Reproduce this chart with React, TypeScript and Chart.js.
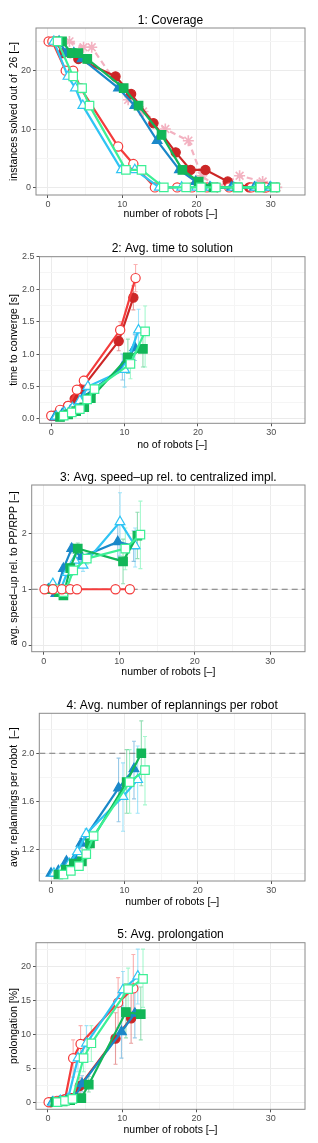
import React, { useEffect, useRef } from "react";
import { Chart, registerables } from "chart.js";
Chart.register(...registerables);

const FONT = "'Liberation Sans', Arial, Helvetica, sans-serif";

// ---------- Panel 1: Coverage ----------
const c1_rf_x = [1.1, 2.0, 3.0, 4.1, 9.1, 11.2, 14.2, 17.2, 19.2, 21.2, 24.2, 27.1, 29.2];
const c1_rf_y = [25, 23, 23, 22, 19, 16, 11, 6, 3, 3, 1, 0, 0];
const c1_ro_x = [0.1, 0.6, 2.4, 3.4, 4.4, 9.45, 11.5, 14.4, 17.4, 19.4, 21.4, 24.4, 27.4, 29.4];
const c1_ro_y = [25, 25, 20, 20, 17, 7, 4, 0, 0, 0, 0, 0, 0, 0];
const c1_bf_x = [1.5, 2.5, 3.5, 4.6, 9.5, 11.7, 14.7, 17.7, 19.9, 21.8, 24.7, 27.8, 29.9];
const c1_bf_y = [25, 23, 23, 22, 17, 14, 8, 3, 1, 0, 0, 0, 0];
const c1_co_x = [0.8, 2.7, 3.7, 4.7, 9.9, 11.7, 15.0, 18.0, 20.0, 21.9, 25.0, 28.0, 30.0];
const c1_co_y = [25, 19, 17, 14, 3, 3, 0, 0, 0, 0, 0, 0, 0];
const c1_gf_x = [1.9, 3.2, 4.1, 5.3, 10.2, 12.2, 15.3, 18.1, 20.3, 22.3, 25.5, 28.5, 30.5];
const c1_gf_y = [25, 23, 23, 22, 17, 14, 9, 3, 1, 0, 0, 0, 0];
const c1_go_x = [1.3, 3.4, 4.6, 5.6, 10.5, 12.6, 15.6, 18.6, 20.6, 22.6, 25.6, 28.6, 30.6];
const c1_go_y = [25, 19, 17, 14, 3, 3, 0, 0, 0, 0, 0, 0, 0];
const c1_pk_x = [2.9, 4.8, 5.9, 10.8, 12.8, 15.8, 18.9, 20.7, 22.8, 25.8, 28.9, 30.8];
const c1_pk_y = [25, 24, 24, 15, 13, 10, 8, 2, 0, 2, 1, 0];

// ---------- Panel 2: Avg. time to solution ----------
const t2_rf_x = [0.4, 1.4, 2.3, 3.2, 4.1, 9.2, 11.2];
const t2_rf_y = [0.05, 0.13, 0.2, 0.31, 0.46, 1.2, 1.87];
const t2_rf_lo = [0.04, 0.11, 0.18, 0.27, 0.41, 1.05, 1.68];
const t2_rf_hi = [0.06, 0.15, 0.22, 0.35, 0.51, 1.35, 2.05];
const t2_ro_x = [0.0, 1.2, 2.3, 3.5, 4.45, 9.4, 11.5];
const t2_ro_y = [0.05, 0.14, 0.2, 0.45, 0.59, 1.37, 2.17];
const t2_ro_lo = [0.04, 0.12, 0.18, 0.4, 0.53, 1.2, 1.96];
const t2_ro_hi = [0.06, 0.16, 0.22, 0.5, 0.66, 1.5, 2.38];
const t2_bf_x = [0.5, 1.5, 2.6, 3.6, 4.4, 9.7, 11.4];
const t2_bf_y = [0.03, 0.08, 0.13, 0.19, 0.34, 0.8, 1.1];
const t2_bf_lo = [0.02, 0.07, 0.11, 0.16, 0.29, 0.6, 0.9];
const t2_bf_hi = [0.04, 0.09, 0.15, 0.22, 0.39, 1.0, 1.3];
const t2_co_x = [0.7, 1.8, 2.9, 3.9, 5.0, 10.0, 11.9];
const t2_co_y = [0.04, 0.1, 0.17, 0.28, 0.5, 0.76, 1.37];
const t2_co_lo = [0.03, 0.08, 0.15, 0.24, 0.44, 0.49, 1.05];
const t2_co_hi = [0.05, 0.12, 0.19, 0.32, 0.56, 1.0, 1.69];
const t2_gf_x = [1.2, 2.3, 3.4, 4.5, 5.4, 10.45, 12.5];
const t2_gf_y = [0.03, 0.07, 0.12, 0.18, 0.32, 0.95, 1.08];
const t2_gf_lo = [0.02, 0.06, 0.1, 0.15, 0.27, 0.7, 0.8];
const t2_gf_hi = [0.04, 0.08, 0.14, 0.21, 0.37, 1.23, 1.36];
const t2_go_x = [1.7, 2.8, 3.9, 4.9, 5.9, 10.8, 12.8];
const t2_go_y = [0.05, 0.1, 0.15, 0.3, 0.46, 0.85, 1.35];
const t2_go_lo = [0.04, 0.08, 0.13, 0.26, 0.4, 0.62, 0.8];
const t2_go_hi = [0.06, 0.12, 0.17, 0.34, 0.52, 1.05, 1.74];

// ---------- Panel 3: Avg. speed-up ----------
const s3_ro_x = [0.1, 1.2, 2.4, 3.5, 4.4, 9.5, 11.4];
const s3_ro_y = [1, 1, 1, 1, 1, 1, 1];
const s3_bf_x = [0.6, 1.6, 2.6, 3.7, 5.0, 9.8, 11.9];
const s3_bf_y = [1.0, 0.92, 1.37, 1.73, 1.58, 1.85, 1.78];
const s3_bf_lo = [0.98, 0.88, 1.3, 1.65, 1.5, 1.55, 1.5];
const s3_bf_hi = [1.02, 0.96, 1.44, 1.81, 1.66, 2.15, 2.05];
const s3_co_x = [1.2, 2.1, 3.1, 4.1, 5.2, 10.1, 12.1];
const s3_co_y = [1.1, 0.95, 1.3, 1.52, 1.43, 2.21, 1.78];
const s3_co_lo = [1.06, 0.9, 1.22, 1.44, 1.32, 1.6, 1.4];
const s3_co_hi = [1.14, 1.0, 1.38, 1.6, 1.55, 2.73, 2.1];
const s3_gf_x = [1.0, 2.0, 2.6, 3.5, 4.5, 10.5, 12.4];
const s3_gf_y = [1.0, 0.95, 0.89, 1.38, 1.73, 1.5, 1.96];
const s3_gf_lo = [0.98, 0.91, 0.85, 1.3, 1.62, 1.1, 1.55];
const s3_gf_hi = [1.02, 0.99, 0.93, 1.46, 1.83, 1.9, 2.38];
const s3_go_x = [1.6, 2.6, 3.0, 3.9, 5.7, 10.8, 12.8];
const s3_go_y = [1.0, 0.95, 1.0, 1.34, 1.55, 1.73, 1.98];
const s3_go_lo = [0.98, 0.91, 0.95, 1.26, 1.45, 1.35, 1.37];
const s3_go_hi = [1.02, 0.99, 1.05, 1.42, 1.65, 2.1, 2.58];
const s3_ref = 1;

// ---------- Panel 4: Avg. number of replannings ----------
const r4_bf_x = [0.0, 1.0, 2.1, 3.2, 4.1, 9.2, 11.3];
const r4_bf_y = [1.0, 1.02, 1.1, 1.12, 1.25, 1.71, 1.87];
const r4_bf_lo = [0.99, 1.0, 1.07, 1.08, 1.21, 1.43, 1.62];
const r4_bf_hi = [1.01, 1.04, 1.13, 1.16, 1.29, 1.96, 2.1];
const r4_co_x = [0.4, 1.4, 2.5, 3.6, 4.8, 9.8, 11.8];
const r4_co_y = [1.0, 1.03, 1.08, 1.18, 1.33, 1.64, 1.78];
const r4_co_lo = [0.99, 1.01, 1.05, 1.14, 1.29, 1.35, 1.5];
const r4_co_hi = [1.01, 1.05, 1.11, 1.22, 1.37, 1.92, 2.06];
const r4_gf_x = [1.0, 2.0, 3.1, 4.2, 5.3, 10.3, 12.3];
const r4_gf_y = [0.99, 1.03, 1.08, 1.1, 1.25, 1.76, 2.0];
const r4_gf_lo = [0.98, 1.01, 1.05, 1.07, 1.21, 1.5, 1.73];
const r4_gf_hi = [1.0, 1.05, 1.11, 1.13, 1.29, 2.03, 2.27];
const r4_go_x = [1.7, 2.7, 3.8, 4.8, 5.8, 10.7, 12.8];
const r4_go_y = [0.99, 1.02, 1.06, 1.16, 1.31, 1.76, 1.86];
const r4_go_lo = [0.98, 1.0, 1.03, 1.12, 1.27, 1.5, 1.57];
const r4_go_hi = [1.0, 1.04, 1.09, 1.2, 1.35, 2.03, 2.14];
const r4_ref = 2;

// ---------- Panel 5: Avg. prolongation ----------
const p5_ro_x = [0.1, 1.2, 2.3, 3.4, 4.4, 9.45, 11.5];
const p5_ro_y = [0, 0.2, 0.4, 6.5, 8.6, 14.7, 16.8];
const p5_ro_lo = [-0.1, 0.0, 0.2, 3.7, 6.0, 11.0, 12.0];
const p5_ro_hi = [0.1, 0.4, 0.6, 9.2, 11.3, 18.4, 21.8];
const p5_rf_x = [0.4, 1.4, 2.2, 3.2, 4.3, 9.1, 11.2];
const p5_rf_y = [0, 0.2, 0.4, 0.6, 2.4, 9.4, 12.4];
const p5_rf_lo = [-0.1, 0.0, 0.2, 0.3, 1.2, 5.6, 8.7];
const p5_rf_hi = [0.1, 0.4, 0.6, 0.9, 3.6, 13.2, 16.2];
const p5_bf_x = [0.6, 1.6, 2.5, 3.6, 4.6, 9.9, 11.7];
const p5_bf_y = [0, 0.1, 0.3, 0.7, 2.7, 10.4, 13.1];
const p5_bf_lo = [-0.1, 0.0, 0.1, 0.4, 1.5, 6.5, 9.5];
const p5_bf_hi = [0.1, 0.2, 0.5, 1.0, 3.9, 14.3, 16.8];
const p5_co_x = [0.7, 1.7, 2.7, 4.05, 5.2, 10.1, 12.1];
const p5_co_y = [0, 0.2, 0.5, 6.5, 8.7, 16.6, 18.6];
const p5_co_lo = [-0.1, 0.0, 0.3, 4.5, 6.0, 14.0, 14.5];
const p5_co_hi = [0.1, 0.4, 0.7, 8.5, 11.3, 19.3, 22.6];
const p5_gf_x = [1.0, 2.0, 3.0, 4.5, 5.5, 10.5, 12.5];
const p5_gf_y = [0, 0.1, 0.3, 0.6, 2.6, 13.3, 13.0];
const p5_gf_lo = [-0.1, 0.0, 0.1, 0.3, 1.5, 9.5, 9.2];
const p5_gf_hi = [0.1, 0.2, 0.5, 0.9, 3.8, 17.5, 17.0];
const p5_go_x = [1.3, 2.3, 3.3, 4.8, 5.85, 10.8, 12.8];
const p5_go_y = [0, 0.2, 0.5, 6.5, 8.7, 16.7, 18.2];
const p5_go_lo = [-0.1, 0.0, 0.3, 4.5, 6.0, 13.6, 14.0];
const p5_go_hi = [0.1, 0.4, 0.7, 8.5, 11.3, 19.8, 22.6];

// ---------- styles ----------
const STYLES: Record<string, any> = {
  rf: { color: "#CC2626", err: "rgba(204,38,38,0.45)", shape: "circle", open: false, r: 4.6 },
  ro: { color: "#F43C3C", err: "rgba(244,60,60,0.4)", shape: "circle", open: true, r: 4.6 },
  bf: { color: "#1A88C9", err: "rgba(26,136,201,0.45)", shape: "triangle", open: false, r: 5.6 },
  co: { color: "#2FC4F4", err: "rgba(47,196,244,0.45)", shape: "triangle", open: true, r: 5.6 },
  gf: { color: "#12B658", err: "rgba(18,182,88,0.45)", shape: "rect", open: false, r: 6 },
  go: { color: "#3CF095", err: "rgba(60,240,149,0.45)", shape: "rect", open: true, r: 6 },
  pk: { color: "#F3B2C1", err: "rgba(243,178,193,0.45)", shape: "star", open: true, r: 5.5, dash: [6, 4] },
};

type Ser = { key: string; x: number[]; y: number[]; lo?: number[]; hi?: number[] };

// the series list of a panel is given top-most first
function makeDataset(s: Ser, idx: number) {
  const st = STYLES[s.key];
  return {
    data: s.x.map((x, i) => ({ x, y: s.y[i] })),
    showLine: true,
    borderColor: st.color,
    borderWidth: 2.2,
    borderDash: st.dash || [],
    tension: 0,
    fill: false,
    pointStyle: st.shape,
    pointRadius: st.r,
    pointHoverRadius: st.r,
    pointBackgroundColor: st.open ? "#FFFFFF" : st.color,
    pointBorderColor: st.color,
    pointBorderWidth: st.shape === "star" ? 1.6 : 1.2,
    errLow: s.lo,
    errHigh: s.hi,
    errColor: st.err,
    order: idx,
  };
}

const errorBarPlugin = {
  id: "errbars",
  beforeDatasetsDraw(chart: any) {
    const { ctx, scales, chartArea } = chart;
    const xs = scales.x, ys = scales.y;
    ctx.save();
    ctx.beginPath();
    ctx.rect(chartArea.left, chartArea.top, chartArea.right - chartArea.left, chartArea.bottom - chartArea.top);
    ctx.clip();
    chart.data.datasets.forEach((ds: any) => {
      if (!ds.errLow) return;
      ctx.strokeStyle = ds.errColor;
      ctx.lineWidth = 1.1;
      ds.data.forEach((pt: any, i: number) => {
        const px = xs.getPixelForValue(pt.x);
        const pl = ys.getPixelForValue(ds.errLow[i]);
        const ph = ys.getPixelForValue(ds.errHigh[i]);
        ctx.beginPath();
        ctx.moveTo(px, pl);
        ctx.lineTo(px, ph);
        ctx.moveTo(px - 2, pl);
        ctx.lineTo(px + 2, pl);
        ctx.moveTo(px - 2, ph);
        ctx.lineTo(px + 2, ph);
        ctx.stroke();
      });
    });
    ctx.restore();
  },
};

const hlinePlugin = {
  id: "hline",
  beforeDatasetsDraw(chart: any, _args: any, opts: any) {
    if (opts == null || opts.value == null) return;
    const { ctx, chartArea, scales } = chart;
    const py = scales.y.getPixelForValue(opts.value);
    ctx.save();
    ctx.strokeStyle = "#7A7A7A";
    ctx.lineWidth = 1;
    ctx.setLineDash([6, 4]);
    ctx.beginPath();
    ctx.moveTo(chartArea.left, py);
    ctx.lineTo(chartArea.right, py);
    ctx.stroke();
    ctx.restore();
  },
};

const framePlugin = {
  id: "frame",
  afterDraw(chart: any) {
    const { ctx, chartArea } = chart;
    ctx.save();
    ctx.strokeStyle = "#8A8A8A";
    ctx.lineWidth = 1;
    ctx.strokeRect(chartArea.left, chartArea.top, chartArea.right - chartArea.left, chartArea.bottom - chartArea.top);
    ctx.restore();
  },
};

function isMajor(v: number, step: number) {
  const r = v / step;
  return Math.abs(r - Math.round(r)) < 1e-6;
}

type PanelCfg = {
  title: string;
  xTitle: string;
  yTitle: string;
  yMin: number;
  yMax: number;
  yStep: number;
  yMajor: number;
  yDigits: number;
  left: number;
  height: number;
  tPadTop: number;
  tPadBottom: number;
  xAxisH: number;
  xTitlePadB: number;
  hline?: number;
  series: Ser[];
};

function buildConfig(p: PanelCfg): any {
  const gridColor = (step: number) => (ctx: any) =>
    ctx.tick && isMajor(ctx.tick.value, step) ? "#EBEBEB" : "#F5F5F5";
  const tickColor = (step: number) => (ctx: any) =>
    ctx.tick && isMajor(ctx.tick.value, step) ? "#555555" : "rgba(0,0,0,0)";
  return {
    type: "scatter",
    data: { datasets: p.series.map(makeDataset) },
    options: {
      animation: false,
      responsive: false,
      devicePixelRatio: 1,
      layout: { padding: { left: 0, right: 13, top: 0, bottom: 0 } },
      plugins: {
        legend: { display: false },
        tooltip: { enabled: false },
        title: {
          display: true,
          text: p.title,
          fullSize: false,
          color: "#000000",
          font: { family: FONT, size: 12, lineHeight: 1.2, weight: "normal" },
          padding: { top: p.tPadTop, bottom: p.tPadBottom },
        },
        hline: p.hline != null ? { value: p.hline } : { value: null },
      },
      scales: {
        x: {
          type: "linear",
          min: -1.6,
          max: 34.6,
          afterFit: (s: any) => {
            s.height = p.xAxisH;
          },
          border: { display: false },
          grid: {
            color: gridColor(10),
            lineWidth: 1,
            drawTicks: true,
            tickLength: 3,
            tickColor: tickColor(10),
            tickWidth: 1,
          },
          ticks: {
            stepSize: 5,
            includeBounds: false,
            autoSkip: false,
            maxRotation: 0,
            padding: 1,
            color: "#4D4D4D",
            font: { family: FONT, size: 9 },
            callback: (v: number) => (isMajor(v, 10) ? String(Math.round(v)) : ""),
          },
          title: {
            display: true,
            text: p.xTitle,
            color: "#000000",
            font: { family: FONT, size: 10.5, lineHeight: 1.2 },
            padding: { top: 0, bottom: p.xTitlePadB },
          },
        },
        y: {
          type: "linear",
          min: p.yMin,
          max: p.yMax,
          afterFit: (s: any) => {
            s.width = p.left;
          },
          border: { display: false },
          grid: {
            color: gridColor(p.yMajor),
            lineWidth: 1,
            drawTicks: true,
            tickLength: 3,
            tickColor: tickColor(p.yMajor),
            tickWidth: 1,
          },
          ticks: {
            stepSize: p.yStep,
            includeBounds: false,
            autoSkip: false,
            padding: 2,
            color: "#4D4D4D",
            font: { family: FONT, size: 9 },
            callback: (v: number) => (isMajor(v, p.yMajor) ? v.toFixed(p.yDigits) : ""),
          },
          title: {
            display: true,
            text: p.yTitle,
            color: "#000000",
            font: { family: FONT, size: 10.5, lineHeight: 1.2 },
            padding: { top: 7.7, bottom: 0 },
          },
        },
      },
    },
    plugins: [errorBarPlugin, hlinePlugin, framePlugin],
  };
}

const PANELS: { top: number; cfg: PanelCfg }[] = [
  {
    top: 0,
    cfg: {
      title: "1: Coverage",
      xTitle: "number of robots [–]",
      yTitle: "instances solved out of  26 [–]",
      yMin: -1.3, yMax: 27.3, yStep: 5, yMajor: 10, yDigits: 0,
      left: 36, height: 222, tPadTop: 13.5, tPadBottom: 0.1, xAxisH: 27, xTitlePadB: 1.7,
      series: [
        { key: "go", x: c1_go_x, y: c1_go_y },
        { key: "gf", x: c1_gf_x, y: c1_gf_y },
        { key: "co", x: c1_co_x, y: c1_co_y },
        { key: "bf", x: c1_bf_x, y: c1_bf_y },
        { key: "ro", x: c1_ro_x, y: c1_ro_y },
        { key: "rf", x: c1_rf_x, y: c1_rf_y },
        { key: "pk", x: c1_pk_x, y: c1_pk_y },
      ],
    },
  },
  {
    top: 222,
    cfg: {
      title: "2: Avg. time to solution",
      xTitle: "no of robots [–]",
      yTitle: "time to converge [s]",
      yMin: -0.067, yMax: 2.5, yStep: 0.25, yMajor: 0.5, yDigits: 1,
      left: 39.5, height: 230, tPadTop: 19.8, tPadBottom: 0.5, xAxisH: 28.7, xTitlePadB: 0.7,
      series: [
        { key: "go", x: t2_go_x, y: t2_go_y, lo: t2_go_lo, hi: t2_go_hi },
        { key: "gf", x: t2_gf_x, y: t2_gf_y, lo: t2_gf_lo, hi: t2_gf_hi },
        { key: "co", x: t2_co_x, y: t2_co_y, lo: t2_co_lo, hi: t2_co_hi },
        { key: "bf", x: t2_bf_x, y: t2_bf_y, lo: t2_bf_lo, hi: t2_bf_hi },
        { key: "ro", x: t2_ro_x, y: t2_ro_y, lo: t2_ro_lo, hi: t2_ro_hi },
        { key: "rf", x: t2_rf_x, y: t2_rf_y, lo: t2_rf_lo, hi: t2_rf_hi },
      ],
    },
  },
  {
    top: 452,
    cfg: {
      title: "3: Avg. speed–up rel. to centralized impl.",
      xTitle: "number of robots [–]",
      yTitle: "avg. speed–up rel. to PP/RPP [–]",
      yMin: -0.12, yMax: 2.87, yStep: 0.5, yMajor: 1, yDigits: 0,
      left: 31.7, height: 228, tPadTop: 18.5, tPadBottom: 0.1, xAxisH: 28.3, xTitlePadB: 1.4,
      hline: s3_ref,
      series: [
        { key: "ro", x: s3_ro_x, y: s3_ro_y },
        { key: "go", x: s3_go_x, y: s3_go_y, lo: s3_go_lo, hi: s3_go_hi },
        { key: "gf", x: s3_gf_x, y: s3_gf_y, lo: s3_gf_lo, hi: s3_gf_hi },
        { key: "co", x: s3_co_x, y: s3_co_y, lo: s3_co_lo, hi: s3_co_hi },
        { key: "bf", x: s3_bf_x, y: s3_bf_y, lo: s3_bf_lo, hi: s3_bf_hi },
      ],
    },
  },
  {
    top: 680,
    cfg: {
      title: "4: Avg. number of replannings per robot",
      xTitle: "number of robots [–]",
      yTitle: "avg. replannings per robot  [–]",
      yMin: 0.936, yMax: 2.333, yStep: 0.2, yMajor: 0.4, yDigits: 1,
      left: 39.3, height: 230, tPadTop: 18.9, tPadBottom: 0, xAxisH: 29, xTitlePadB: 1.7,
      hline: r4_ref,
      series: [
        { key: "go", x: r4_go_x, y: r4_go_y, lo: r4_go_lo, hi: r4_go_hi },
        { key: "gf", x: r4_gf_x, y: r4_gf_y, lo: r4_gf_lo, hi: r4_gf_hi },
        { key: "co", x: r4_co_x, y: r4_co_y, lo: r4_co_lo, hi: r4_co_hi },
        { key: "bf", x: r4_bf_x, y: r4_bf_y, lo: r4_bf_lo, hi: r4_bf_hi },
      ],
    },
  },
  {
    top: 910,
    cfg: {
      title: "5: Avg. prolongation",
      xTitle: "number of robots [–]",
      yTitle: "prolongation [%]",
      yMin: -1.05, yMax: 23.55, yStep: 2.5, yMajor: 5, yDigits: 0,
      left: 36, height: 233, tPadTop: 17.1, tPadBottom: 1.2, xAxisH: 33.7, xTitlePadB: 6.7,
      series: [
        { key: "go", x: p5_go_x, y: p5_go_y, lo: p5_go_lo, hi: p5_go_hi },
        { key: "gf", x: p5_gf_x, y: p5_gf_y, lo: p5_gf_lo, hi: p5_gf_hi },
        { key: "co", x: p5_co_x, y: p5_co_y, lo: p5_co_lo, hi: p5_co_hi },
        { key: "bf", x: p5_bf_x, y: p5_bf_y, lo: p5_bf_lo, hi: p5_bf_hi },
        { key: "ro", x: p5_ro_x, y: p5_ro_y, lo: p5_ro_lo, hi: p5_ro_hi },
        { key: "rf", x: p5_rf_x, y: p5_rf_y, lo: p5_rf_lo, hi: p5_rf_hi },
      ],
    },
  },
];

function Panel({ top, cfg }: { top: number; cfg: PanelCfg }) {
  const ref = useRef<HTMLCanvasElement>(null);
  useEffect(() => {
    if (!ref.current) return;
    const chart = new Chart(ref.current, buildConfig(cfg));
    return () => chart.destroy();
  }, []);
  return (
    <canvas
      ref={ref}
      width={318}
      height={cfg.height}
      style={{ position: "absolute", left: 0, top, width: 318, height: cfg.height, display: "block" }}
    />
  );
}

export default function App() {
  return (
    <div style={{ position: "absolute", left: 0, top: 0, width: 318, height: 1143, background: "#FFFFFF" }}>
      {PANELS.map((p, i) => (
        <Panel key={i} top={p.top} cfg={p.cfg} />
      ))}
    </div>
  );
}
